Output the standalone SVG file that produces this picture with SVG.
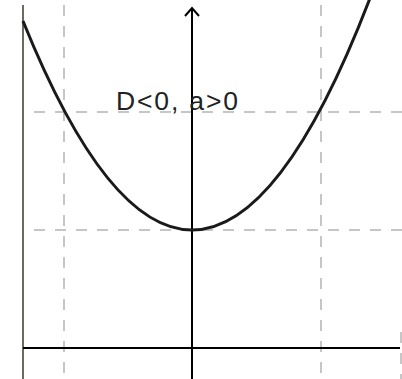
<svg xmlns="http://www.w3.org/2000/svg" width="402" height="379" viewBox="0 0 402 379">
<style>
.grid{stroke:#b4b4b4;stroke-width:1.5;stroke-dasharray:11 10;fill:none}
.axis{stroke:#000;stroke-width:2;fill:none}
</style>
<rect width="402" height="379" fill="#fff"/>
<g id="grid">
<line class="grid" x1="64" y1="0" x2="64" y2="379" stroke-dashoffset="-5"/>
<line class="grid" x1="321" y1="0" x2="321" y2="379" stroke-dashoffset="-5"/>
<line class="grid" x1="402" y1="112" x2="24" y2="112"/>
<line class="grid" x1="402" y1="230" x2="24" y2="230"/>
<line class="grid" x1="401" y1="330" x2="401" y2="379" stroke-dashoffset="-2"/>
</g>
<g id="axes">
<line x1="23" y1="5" x2="23" y2="379" stroke="#6e6a60" stroke-width="2"/>
<line class="axis" x1="192" y1="8" x2="192" y2="379"/>
<polyline class="axis" points="185,16 192,8 199,16"/>
<line class="axis" x1="23" y1="348" x2="400" y2="348" stroke-width="2.5"/>
</g>
<g id="curve">
<path d="M23,21 Q107.5,230 192,230 Q281,230 370,-1.8" fill="none" stroke="#1a1a1a" stroke-width="3"/>
</g>
<g id="label">
<text x="116" y="110" font-family="Liberation Sans, Arial, sans-serif" font-size="26.5" fill="#222" textLength="122" lengthAdjust="spacing">D&lt;0, a&gt;0</text>
</g>
</svg>
